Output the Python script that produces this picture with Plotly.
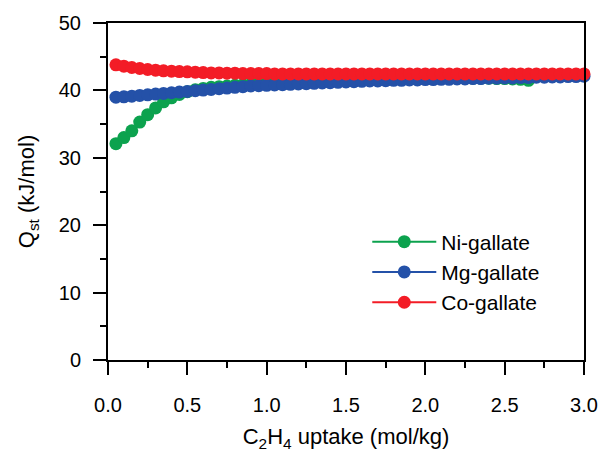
import plotly.graph_objects as go

ni_x = [0.05, 0.10, 0.15, 0.20, 0.25, 0.30, 0.35, 0.40, 0.45, 0.50,
        0.55, 0.60, 0.65, 0.70, 0.75, 0.80, 0.85, 0.90, 0.95, 1.00,
        1.05, 1.10, 1.15, 1.20, 1.25, 1.30, 1.35, 1.40, 1.45, 1.50,
        1.55, 1.60, 1.65, 1.70, 1.75, 1.80, 1.85, 1.90, 1.95, 2.00,
        2.05, 2.10, 2.15, 2.20, 2.25, 2.30, 2.35, 2.40, 2.45, 2.50,
        2.55, 2.60, 2.65]
ni_q = [32.1, 33.0, 34.0, 35.3, 36.4, 37.4, 38.3, 38.9, 39.4, 39.8,
        40.1, 40.3, 40.45, 40.55, 40.65, 40.75, 40.85, 40.9, 40.95, 41.0,
        41.05, 41.1, 41.15, 41.2, 41.25, 41.3, 41.35, 41.4, 41.45, 41.5,
        41.5, 41.55, 41.6, 41.6, 41.65, 41.65, 41.7, 41.7, 41.7, 41.75,
        41.75, 41.8, 41.8, 41.8, 41.8, 41.8, 41.8, 41.8, 41.75, 41.75,
        41.7, 41.65, 41.5]

mg_x = [0.05, 0.10, 0.15, 0.20, 0.25, 0.30, 0.35, 0.40, 0.45, 0.50,
        0.55, 0.60, 0.65, 0.70, 0.75, 0.80, 0.85, 0.90, 0.95, 1.00,
        1.05, 1.10, 1.15, 1.20, 1.25, 1.30, 1.35, 1.40, 1.45, 1.50,
        1.55, 1.60, 1.65, 1.70, 1.75, 1.80, 1.85, 1.90, 1.95, 2.00,
        2.05, 2.10, 2.15, 2.20, 2.25, 2.30, 2.35, 2.40, 2.45, 2.50,
        2.55, 2.60, 2.65, 2.70, 2.75, 2.80, 2.85, 2.90, 2.95, 3.00]
mg_q = [39.0, 39.05, 39.15, 39.25, 39.35, 39.45, 39.55, 39.65, 39.75, 39.85,
        39.95, 40.05, 40.15, 40.25, 40.35, 40.45, 40.55, 40.65, 40.7, 40.75,
        40.8, 40.85, 40.9, 40.95, 41.0, 41.05, 41.1, 41.15, 41.2, 41.25,
        41.3, 41.35, 41.4, 41.4, 41.45, 41.5, 41.5, 41.55, 41.55, 41.6,
        41.6, 41.65, 41.65, 41.7, 41.7, 41.75, 41.75, 41.8, 41.8, 41.85,
        41.85, 41.9, 41.9, 41.95, 41.95, 42.0, 42.0, 42.05, 42.05, 42.1]

co_x = [0.05, 0.10, 0.15, 0.20, 0.25, 0.30, 0.35, 0.40, 0.45, 0.50,
        0.55, 0.60, 0.65, 0.70, 0.75, 0.80, 0.85, 0.90, 0.95, 1.00,
        1.05, 1.10, 1.15, 1.20, 1.25, 1.30, 1.35, 1.40, 1.45, 1.50,
        1.55, 1.60, 1.65, 1.70, 1.75, 1.80, 1.85, 1.90, 1.95, 2.00,
        2.05, 2.10, 2.15, 2.20, 2.25, 2.30, 2.35, 2.40, 2.45, 2.50,
        2.55, 2.60, 2.65, 2.70, 2.75, 2.80, 2.85, 2.90, 2.95, 3.00]
co_q = [43.8, 43.6, 43.4, 43.25, 43.1, 43.0, 42.9, 42.85, 42.8, 42.75,
        42.7, 42.65, 42.6, 42.6, 42.55, 42.55, 42.5, 42.5, 42.5, 42.5,
        42.45, 42.45, 42.45, 42.45, 42.45, 42.45, 42.45, 42.45, 42.45, 42.45,
        42.45, 42.45, 42.45, 42.45, 42.45, 42.45, 42.45, 42.45, 42.45, 42.45,
        42.45, 42.45, 42.45, 42.45, 42.45, 42.45, 42.45, 42.45, 42.45, 42.45,
        42.45, 42.45, 42.45, 42.45, 42.45, 42.45, 42.45, 42.45, 42.45, 42.45]

series = [
    ("Ni-gallate", ni_x, ni_q, "#0ca24e"),
    ("Mg-gallate", mg_x, mg_q, "#2451a8"),
    ("Co-gallate", co_x, co_q, "#f31c26"),
]

FONT = "Arial, Liberation Sans, sans-serif"

fig = go.Figure()
for name, xs, ys, col in series:
    fig.add_trace(go.Scatter(
        x=xs, y=ys, name=name, mode="lines+markers",
        line=dict(color=col, width=2),
        marker=dict(color=col, size=13),
        cliponaxis=False,
    ))

axis_common = dict(
    showline=True, linecolor="black", linewidth=2, mirror=True,
    ticks="outside", ticklen=13, tickwidth=2, tickcolor="black",
    showgrid=False, zeroline=False,
    tickfont=dict(family=FONT, size=20, color="black"),
)

fig.update_xaxes(
    range=[0, 3], dtick=0.5, tickformat=".1f",
    minor=dict(ticks="outside", ticklen=6, tickwidth=2, tickcolor="black", dtick=0.25),
    ticklabelstandoff=13,
    title=dict(text="C<sub>2</sub>H<sub>4</sub> uptake (mol/kg)",
               font=dict(family=FONT, size=22, color="black"), standoff=14),
    **axis_common,
)
fig.update_yaxes(
    range=[0, 50], dtick=10,
    minor=dict(ticks="outside", ticklen=6, tickwidth=2, tickcolor="black", dtick=5),
    ticklabelstandoff=8,
    title=dict(text="Q<sub>st</sub> (kJ/mol)",
               font=dict(family=FONT, size=22, color="black"), standoff=18),
    **axis_common,
)

fig.update_layout(
    width=610, height=458,
    margin=dict(l=108, r=21, t=23, b=98),
    plot_bgcolor="white", paper_bgcolor="white",
    font=dict(family=FONT, size=20, color="black"),
    legend=dict(
        x=(370 - 108) / 481, y=(360 - 272) / 337,
        xanchor="left", yanchor="middle",
        bgcolor="rgba(0,0,0,0)", borderwidth=0,
        itemwidth=64, tracegroupgap=0,
        font=dict(family=FONT, size=21, color="black"),
    ),
)

fig.write_html("out.html")
